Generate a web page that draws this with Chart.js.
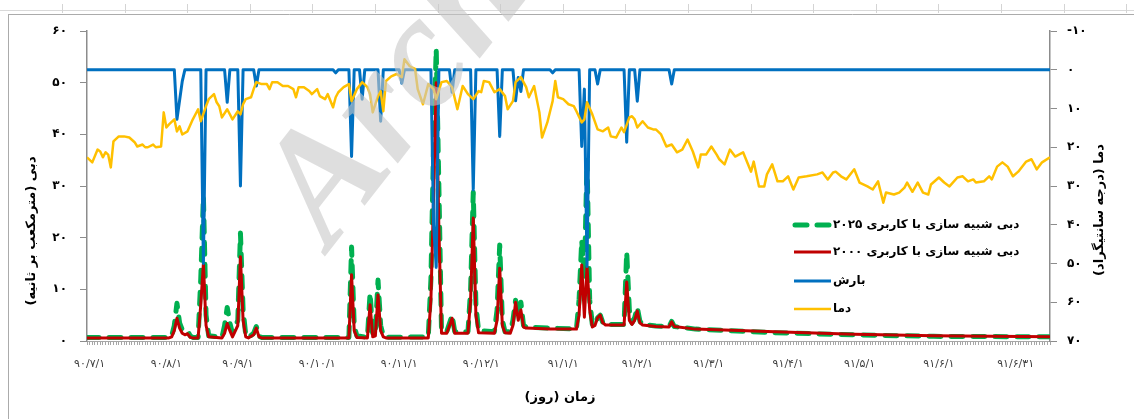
<!DOCTYPE html>
<html><head><meta charset="utf-8">
<script src="https://cdn.jsdelivr.net/npm/chart.js@4.4.1/dist/chart.umd.min.js"></script>
<style>html,body{margin:0;padding:0;background:#fff}canvas{display:block}</style>
</head><body><canvas id="c" width="1134" height="419"></canvas>
<script>
// ---------- data ----------
const xTickDays   = [1, 30, 57, 87, 118, 149, 180, 208, 235, 265, 292, 322, 351];
const xTickLabels = ['۹۰/۷/۱','۹۰/۸/۱','۹۰/۹/۱','۹۰/۱۰/۱','۹۰/۱۱/۱','۹۰/۱۲/۱','۹۱/۱/۱','۹۱/۲/۱','۹۱/۳/۱','۹۱/۴/۱','۹۱/۵/۱','۹۱/۶/۱','۹۱/۶/۳۱'];

const flowDays = [0,31,32,33,34,35,36,37,38,39,40,42,43,44,45,46,51,52,53,54,55,57,58,59,60,61,63,64,65,66,99,100,101,102,106,107,108,109,110,111,112,113,129,130,131,132,133,134,135,136,138,139,144,145,146,147,148,154,155,156,157,158,160,161,162,163,164,165,166,175,185,186,187,188,189,190,191,192,193,194,195,196,203,204,205,206,207,208,209,210,215,220,221,222,230,260,290,320,364];
const q2000 = [0.6,0.6,0.8,2.0,4.4,2.5,1.5,1.2,1.4,0.7,0.6,0.6,7,15,3,0.8,0.6,1.5,3.4,2.0,0.8,3,16.3,4,0.8,0.6,1.2,2.5,0.8,0.6,0.6,12.8,2,0.7,0.6,7,0.8,1.0,8.9,2,0.8,0.6,0.6,8,28,50,22,1.5,1.5,1.5,4.4,1.5,1.5,8,23.8,5,1.6,1.5,4,14.1,3,1.6,1.5,3,7.5,4,6,2.7,2.5,2.3,2.3,5,14.7,4.6,14.4,6,2.7,3,4.5,5,3.5,3.1,3.1,11.4,4,3.2,4,5.8,3.5,3.1,2.8,2.7,3.7,2.8,2.3,1.8,1.3,1.0,0.8];
const q2025 = [0.7,0.7,1.0,3.0,7.3,3.5,2.2,2.0,2.0,1.0,0.7,0.7,12,28,5,1.0,0.7,3,6.5,3.5,1.5,4,20.9,6,1.2,0.7,1.5,2.8,0.9,0.7,0.7,18.2,3,1.0,0.7,9.3,1.2,1.5,11.8,3,1.0,0.7,0.8,12,38,56.5,30,2,1.8,1.8,5.0,1.8,1.8,10,28.8,7,2,1.8,6,18.6,4,1.8,1.8,4,7.9,5,7.5,3,2.7,2.5,2.3,8,19.5,12,35,8,3.2,3,4.5,5,3.5,3.2,3.2,17.2,6,3.5,4.5,6.5,3.8,3.2,2.9,2.8,3.8,2.8,2.3,1.6,1.2,0.9,0.8];

const rainDays = [0,33,34,36,37,43,44,45,52,53,54,57,58,59,63,64,65,93,94,95,99,100,101,103,104,105,110,111,112,118,119,120,130,131,132,133,137,138,139,145,146,147,155,156,157,161,162,163,164,165,175,176,177,186,187,188,189,190,192,193,194,203,204,205,207,208,209,220,221,222,364];
const rainMm   = [0,0,12.8,3,0,0,50,0,0,8.4,0,0,30,0,0,4.2,0,0,0.8,0,0,22.4,0,0,7.6,0,0,13.3,0,0,3.5,0,0,40,51,0,0,5.8,0,0,31,0,0,17.2,0,0,8,2,5.6,0,0,0.8,0,0,19.8,5,50.8,0,0,3.7,0,0,18.7,0,0,8.1,0,0,3.7,0,0];

const tempDays = [0,2,4,5,6,7,8,9,10,12,14,16,18,19,21,22,23,25,26,28,29,30,31,33,34,35,36,38,40,42,43,45,46,48,49,50,51,53,55,57,58,59,60,62,63,64,66,68,69,70,72,74,76,78,79,80,82,84,85,87,88,90,91,93,94,95,97,99,100,102,104,106,107,108,110,111,112,113,115,117,119,120,122,124,125,127,129,131,132,134,136,138,140,142,144,146,148,149,150,152,154,156,158,159,161,162,164,166,167,169,171,172,174,176,177,178,180,182,184,185,187,188,189,191,193,195,197,198,200,202,203,205,206,207,208,210,212,214,215,217,219,221,223,225,227,229,231,232,234,236,238,239,241,243,245,248,251,252,254,256,257,259,261,263,265,267,269,272,276,278,280,282,283,285,287,290,292,295,297,299,301,302,305,307,309,310,312,314,316,318,319,322,324,326,329,331,333,335,336,339,341,342,344,346,348,350,352,355,357,359,361,364];
const tempC = [22.6,23.9,20.6,21.1,22.6,21.3,21.9,25.2,18.5,17.2,17.2,17.5,18.7,19.8,19.3,20.0,20.0,19.3,20.0,19.8,11.0,14.9,14.1,12.8,15.9,14.6,16.7,15.9,12.8,10.2,13.3,9.4,7.6,6.3,8.4,9.4,12.3,10.2,12.8,10.7,11.5,8.9,7.6,7.1,5.0,3.2,3.7,3.7,5.0,3.2,3.2,4.2,4.2,5.0,7.1,4.5,4.5,5.5,6.3,5.0,6.8,7.6,6.3,9.7,7.1,5.8,4.5,3.7,8.1,5.0,3.2,4.5,6.3,11.0,6.8,5.5,10.7,2.9,1.7,1.1,1.9,-2.7,-0.9,-0.2,5.0,8.9,3.7,5.0,7.6,3.2,2.9,4.5,10.2,4.2,6.3,7.6,5.5,5.8,2.9,3.2,5.8,5.0,6.8,10.2,8.1,3.2,1.9,4.5,7.1,4.2,11.0,17.5,13.6,8.1,2.9,7.1,7.6,8.9,9.4,10.7,13.6,12.8,8.4,11.5,15.4,15.9,14.9,17.2,17.5,14.9,16.1,12.3,12.0,12.8,14.9,13.3,14.9,15.4,15.4,16.7,19.8,19.3,21.3,20.6,18.0,21.1,25.2,21.9,21.9,19.8,21.9,23.1,24.4,20.6,22.4,21.3,26.3,23.7,30.1,30.1,27.0,24.4,28.8,28.8,27.5,30.9,27.8,27.5,27.0,26.5,28.3,26.5,26.3,27.5,28.3,25.7,29.1,30.1,30.9,28.8,34.3,31.7,32.2,31.7,30.4,29.1,31.5,29.1,31.7,32.2,29.6,27.8,29.1,30.1,27.8,27.5,28.8,28.3,29.1,28.8,27.5,28.3,25.0,23.9,25.0,27.5,26.3,23.7,23.1,25.7,23.9,22.6];

const seriesNames = ['دبی شبیه سازی با کاربری ۲۰۲۵', 'دبی شبیه سازی با کاربری ۲۰۰۰', 'بارش', 'دما'];
const leftTitle = 'دبی (مترمکعب بر ثانیه)';
const rightTitle = 'دما (درجه سانتیگراد)';
const bottomTitle = 'زمان (روز)';

// ---------- helpers ----------
const FONT = "'DejaVu Sans', sans-serif";
const toFa = s => String(s).replace(/[0-9]/g, d => '۰۱۲۳۴۵۶۷۸۹'[d]);
const pts = (xs, ys) => xs.map((x, i) => ({x, y: ys[i]}));

const bgPlugin = {
  id: 'bg',
  beforeDraw(chart) {
    const c = chart.ctx;
    c.save();
    c.fillStyle = '#fff';
    c.fillRect(0, 0, chart.width, chart.height);
    c.lineWidth = 1;
    c.strokeStyle = '#d9d9d9';
    c.beginPath(); c.moveTo(0, 10.5); c.lineTo(chart.width, 10.5); c.stroke();
    c.strokeStyle = '#ababab';
    c.beginPath(); c.moveTo(8, 14.5); c.lineTo(chart.width, 14.5); c.stroke();
    c.beginPath(); c.moveTo(8.5, 14.5); c.lineTo(8.5, chart.height); c.stroke();
    c.strokeStyle = '#d4d4d4';
    for (let x = 62; x < chart.width; x += 62.6) {
      c.beginPath(); c.moveTo(Math.round(x) + 0.5, 4); c.lineTo(Math.round(x) + 0.5, 13); c.stroke();
    }
    c.restore();
  }
};

const decoPlugin = {
  id: 'deco',
  afterDraw(chart) {
    const c = chart.ctx;
    c.save();
    // axis titles
    c.fillStyle = '#000';
    c.font = 'bold 13px ' + FONT;
    c.textAlign = 'center';
    c.textBaseline = 'middle';
    c.direction = 'rtl';
    c.save(); c.translate(32, 231); c.rotate(-Math.PI / 2); c.fillText(leftTitle, 0, 0); c.restore();
    c.save(); c.translate(1100, 210); c.rotate(-Math.PI / 2); c.fillText(rightTitle, 0, 0); c.restore();
    c.fillText(bottomTitle, 560, 398);
    // legend
    const rowsY = [225, 252, 281, 309];
    [0, 1, 2, 3].forEach((di, r) => {
      const ds = chart.data.datasets[di];
      const y = rowsY[r];
      c.save();
      c.strokeStyle = ds.borderColor;
      c.lineWidth = ds.borderWidth;
      c.lineCap = ds.borderDash ? 'round' : 'butt';
      c.setLineDash(ds.borderDash || []);
      c.beginPath(); c.moveTo(ds.borderDash ? 795 : 794, y); c.lineTo(ds.borderDash ? 830 : 831, y); c.stroke();
      c.restore();
      c.font = 'bold 12px ' + FONT;
      c.textAlign = 'left';
      c.fillStyle = '#000';
      c.fillText(ds.label, 833, y);
    });
    // watermark
    c.save();
    c.translate(330, 250);
    c.rotate(-52 * Math.PI / 180);
    c.font = "italic bold 160px 'Liberation Serif', serif";
    c.direction = 'ltr';
    c.textAlign = 'left';
    c.textBaseline = 'alphabetic';
    c.fillStyle = 'rgba(200,200,200,0.6)';
    c.fillText('Archive', 0, 0);
    c.restore();
    c.restore();
  }
};

new Chart(document.getElementById('c'), {
  type: 'line',
  data: {
    datasets: [
      {label: seriesNames[0], data: pts(flowDays, q2025), yAxisID: 'y', borderColor: '#00B050', borderWidth: 5, borderDash: [12, 10], borderCapStyle: 'round', borderJoinStyle: 'round', order: 3},
      {label: seriesNames[1], data: pts(flowDays, q2000), yAxisID: 'y', borderColor: '#C00000', borderWidth: 3, borderJoinStyle: 'round', order: 2},
      {label: seriesNames[2], data: pts(rainDays, rainMm), yAxisID: 'y2', borderColor: '#0070C0', borderWidth: 3, borderJoinStyle: 'round', order: 1},
      {label: seriesNames[3], data: pts(tempDays, tempC), yAxisID: 'y2', borderColor: '#FFC000', borderWidth: 2.5, borderJoinStyle: 'round', order: 0}
    ]
  },
  options: {
    responsive: false,
    animation: false,
    devicePixelRatio: 1,
    layout: {padding: {top: 31, left: 0, right: 0, bottom: 0}},
    elements: {point: {radius: 0}, line: {tension: 0, fill: false}},
    plugins: {legend: {display: false}, tooltip: {enabled: false}},
    scales: {
      x: {
        type: 'linear', min: 0, max: 364, position: 'bottom',
        afterFit(s) { s.height = 78; },
        grid: {display: true, drawOnChartArea: false, drawTicks: true, tickLength: 4, color: '#a6a6a6', lineWidth: 1},
        border: {display: true, color: '#a6a6a6', width: 1},
        ticks: {
          stepSize: 1, autoSkip: false, maxRotation: 0, minRotation: 0, padding: 13,
          color: '#404040', font: {family: FONT, size: 11},
          callback: v => { const i = xTickDays.indexOf(Math.round(v)); return i >= 0 ? xTickLabels[i] : ''; }
        }
      },
      y: {
        position: 'left', min: 0, max: 60,
        afterFit(s) { s.width = 87; },
        grid: {drawOnChartArea: false, drawTicks: true, tickLength: 7, color: '#8c8c8c', lineWidth: 1},
        border: {display: true, color: '#8c8c8c', width: 1.5},
        ticks: {stepSize: 10, padding: 13, color: '#000', font: {family: FONT, size: 12, weight: 'bold'}, callback: v => toFa(v)}
      },
      y2: {
        position: 'right', reverse: true, min: -10, max: 70,
        afterFit(s) { s.width = 84; },
        grid: {drawOnChartArea: false, drawTicks: true, tickLength: 7, color: '#8c8c8c', lineWidth: 1},
        border: {display: true, color: '#8c8c8c', width: 1.5},
        ticks: {stepSize: 10, padding: 10, color: '#000', font: {family: FONT, size: 12, weight: 'bold'}, callback: v => toFa(v)}
      }
    }
  },
  plugins: [bgPlugin, decoPlugin]
});
</script>
</body></html>
